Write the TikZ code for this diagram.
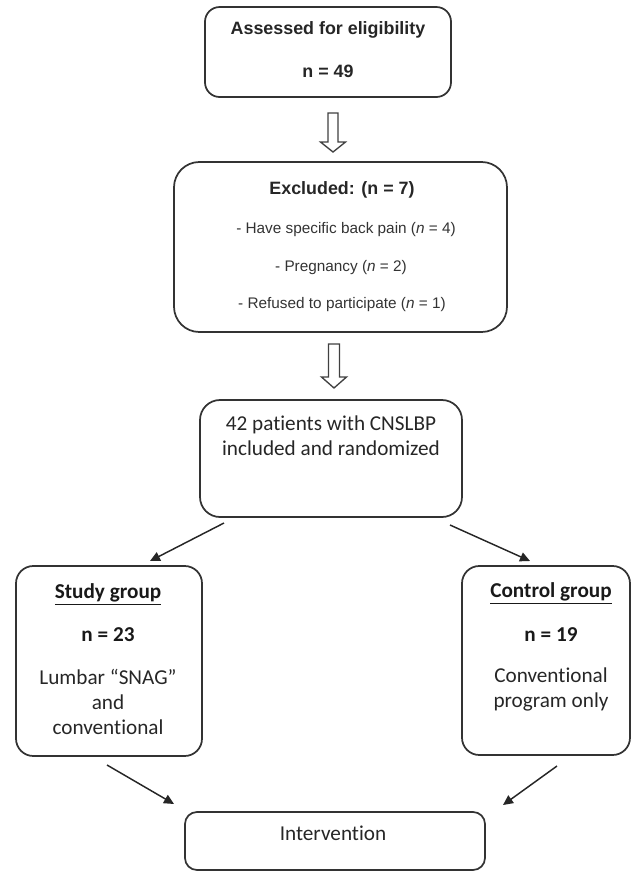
\documentclass[tikz,border=0pt]{standalone}
\usepackage{fontspec}
\setmainfont{Liberation Sans}
\newfontfamily\calfont[Ligatures={NoCommon}]{Carlito}
\usetikzlibrary{arrows.meta,fit}
\begin{document}
\begin{tikzpicture}[x=0.75pt,y=-0.75pt,
  box/.style={draw=black!80, line width=1.3pt, inner sep=0pt, rounded corners=#1},
  conn/.style={-{Triangle[length=7.5pt,width=7pt]}, line width=1.1pt, draw=black!85},
  blockarrow/.style={draw=black!75, line width=1pt, fill=white, line join=miter},
  hdr/.style={font=\bfseries\fontsize{13.4}{16}\selectfont, text=black!85, inner sep=0pt},
  itm/.style={font=\fontsize{11.5}{14}\selectfont, text=black!80, inner sep=0pt},
  ctxt/.style={font=\calfont\fontsize{15.9}{18.75}\selectfont, text=black!85, inner sep=0pt, align=center},
  cbold/.style={font=\calfont\bfseries\fontsize{15.9}{18.75}\selectfont, text=black!90, inner sep=0pt}]
\useasboundingbox (0,0) rectangle (632,872);

% boxes
\node[box=11pt, fit={(205,7) (451,97)}] (b1) {};
\node[box=19pt, fit={(174,162) (507,332)}] (b2) {};
\node[box=15pt, fit={(200,400) (462,517)}] (b3) {};
\node[box=13pt, fit={(16,566) (202,756)}] (bs) {};
\node[box=13pt, fit={(462,566) (630,755)}] (bc) {};
\node[box=9pt, fit={(185,812) (485,870)}] (bi) {};

% texts
\node[hdr] (t1a) at (328,30) {Assessed for eligibility};
\node[hdr] (t1b) at (328,71) {n = 49};

\node[hdr] (t2a) at (342,190) {Excluded: (n = 7)};
\node[itm] (t2b) at (346,230) {- Have specific back pain (\textit{n} = 4)};
\node[itm] (t2c) at (341,268) {- Pregnancy (\textit{n} = 2)};
\node[itm] (t2d) at (342,305) {- Refused to participate (\textit{n} = 1)};

\node[ctxt] (t3) at (331,435.5) {42 patients with CNSLBP\\included and randomized};

\node[cbold] (tsa) at (108,594) {\underline{Study group}};
\node[cbold] (tsb) at (108,635) {n = 23};
\node[ctxt] (tsc) at (108,702) {Lumbar “SNAG”\\and\\conventional};

\node[cbold] (tca) at (551,593) {\underline{Control group}};
\node[cbold] (tcb) at (551,635) {n = 19};
\node[ctxt] (tcc) at (551,689.5) {Conventional\\program only};

\node[ctxt] (ti) at (333,833) {Intervention};

% hollow block arrows
\coordinate (ba1) at (333,113);
\draw[blockarrow] (ba1) ++(-5,0) -- ++(0,29) -- ++(-7.5,0) -- ++(12.5,10) -- ++(12.5,-10) -- ++(-7.5,0) -- ++(0,-29) -- cycle;
\coordinate (ba2) at (334,344);
\draw[blockarrow] (ba2) ++(-5.5,0) -- ++(0,33) -- ++(-7,0) -- ++(12.5,11) -- ++(12.5,-11) -- ++(-7,0) -- ++(0,-33) -- cycle;

% connectors
\coordinate (a1s) at (224,523);
\coordinate (a1e) at (150,561);
\coordinate (a2s) at (450,525);
\coordinate (a2e) at (530,561);
\coordinate (a3s) at (107,765);
\coordinate (a3e) at (174,804);
\coordinate (a4s) at (557,766);
\coordinate (a4e) at (503,805);
\draw[conn] (a1s) -- (a1e);
\draw[conn] (a2s) -- (a2e);
\draw[conn] (a3s) -- (a3e);
\draw[conn] (a4s) -- (a4e);
\end{tikzpicture}
\end{document}
